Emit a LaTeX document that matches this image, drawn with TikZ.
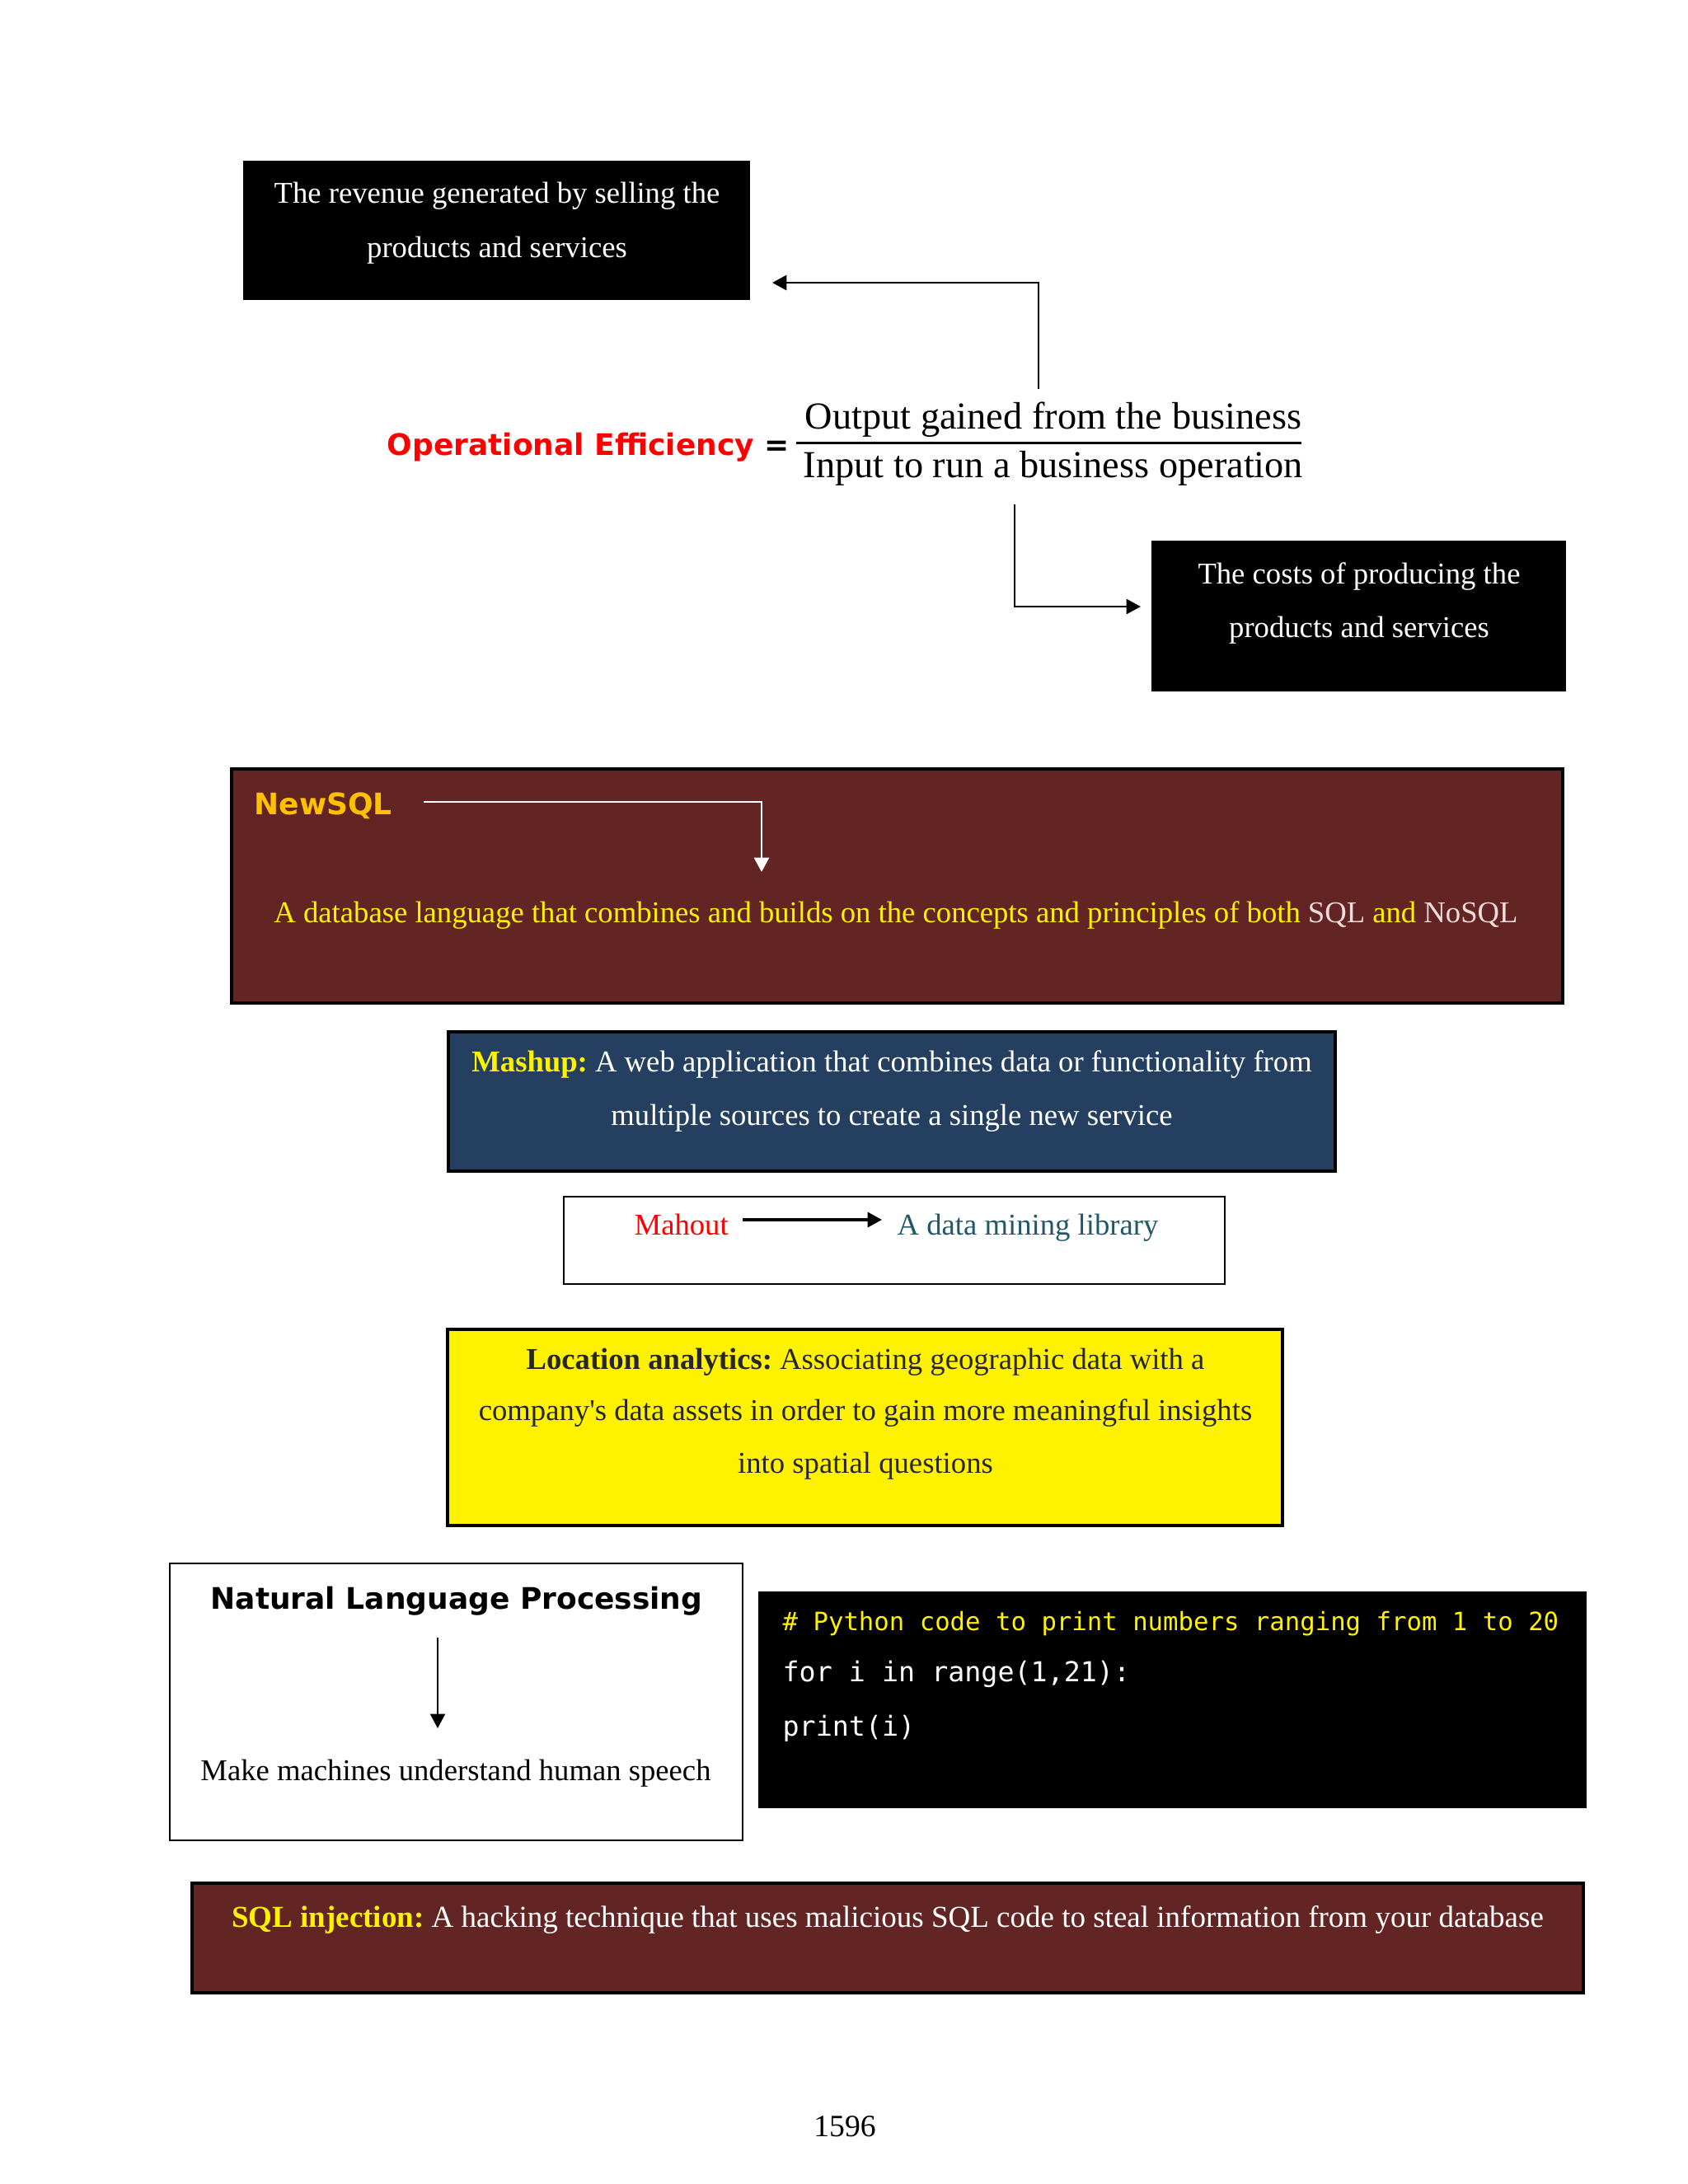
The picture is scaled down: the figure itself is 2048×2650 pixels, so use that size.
\documentclass[tikz,border=0pt]{standalone}
\usepackage{fontspec}
\setmainfont{Liberation Serif}
\newfontfamily\hsans{DejaVu Sans}
\newfontfamily\hmono{DejaVu Sans Mono}
\usetikzlibrary{arrows.meta,fit}
\definecolor{darkred}{HTML}{632523}
\definecolor{navy}{HTML}{243F60}
\definecolor{gold}{HTML}{FFC000}
\definecolor{tealtxt}{HTML}{215868}
\definecolor{pinkw}{HTML}{F2DCDB}
\definecolor{ink}{HTML}{262626}
\definecolor{oered}{HTML}{FF0000}
\newcommand{\straightquote}{\XeTeXglyph\XeTeXcharglyph"27\relax}
\frenchspacing
\begin{document}
\begin{tikzpicture}[x=0.3pt,y=-0.3pt,
  box/.style={draw=black,line width=1pt,inner sep=0pt,outer sep=0pt},
  txt/.style={font=\fontsize{11}{13}\selectfont,inner sep=0pt,anchor=base},
  hd/.style={font=\hsans\bfseries\fontsize{10.8}{13}\selectfont,inner sep=0pt,anchor=base},
  fracfont/.style={font=\fontsize{13.9}{16}\selectfont,inner sep=0pt,anchor=base},
  codeline/.style={font=\hmono\fontsize{10}{12}\selectfont,inner sep=0pt,anchor=base west},
  arr/.style={line width=0.8pt,-{Triangle[length=5.2pt,width=5.4pt]}},
]
\useasboundingbox (0,0) rectangle (2048,2650);
\fill[white] (0,0) rectangle (2048,2650);

% ---------- boxes ----------
\node[box,fill=black,fit={(297,197) (908,362)}] (rev) {};
\node[box,fill=black,fit={(1399,658) (1898,837)}] (cost) {};
\node[box,fill=darkred,fit={(281,933) (1896,1217)}] (newsql) {};
\node[box,fill=navy,fit={(544,1252) (1620,1421)}] (mash) {};
\node[box,fill=white,line width=0.7pt,fit={(684,1452) (1486,1558)}] (mahbox) {};
\node[box,fill=yellow,fit={(543,1613) (1556,1851)}] (loc) {};
\node[box,fill=white,line width=0.7pt,fit={(206,1897) (901,2233)}] (nlp) {};
\node[box,fill=black,fit={(922,1933) (1923,2192)}] (code) {};
\node[box,fill=darkred,fit={(233,2285) (1921,2418)}] (sqli) {};

% ---------- operational efficiency ----------
\node[txt,text=white] (rev1) at (603,246) {The revenue generated by selling the};
\node[txt,text=white] (rev2) at (603,312) {products and services};
\node[txt,text=white] (cost1) at (1649,708) {The costs of producing the};
\node[txt,text=white] (cost2) at (1649,773) {products and services};

\node[hd,anchor=base west] (oe) at (469,552)
  {\textcolor{oered}{Operational Efficiency} =};
\node[fracfont] (num) at (1278,520) {Output gained from the business};
\node[fracfont] (den) at (1278,579) {Input to run a business operation};
\draw[line width=1pt] (966,537.5) -- (1579,537.5);

\coordinate (revA) at (1260,472);
\coordinate (revB) at (937,343);
\draw[arr] (revA) |- (revB);
\coordinate (costA) at (1231,612);
\coordinate (costB) at (1384,736);
\draw[arr] (costA) |- (costB);

% ---------- NewSQL ----------
\node[hd,anchor=base west,text=gold] (nslab) at (308,988) {NewSQL};
\node[txt] (nsdesc) at (1087,1119)
  {\textcolor{yellow}{A database language that combines and builds on the concepts and principles of both} \textcolor{pinkw}{SQL} \textcolor{yellow}{and} \textcolor{pinkw}{NoSQL}};
\coordinate (nsA) at (514,973);
\coordinate (nsB) at (924,1058);
\draw[arr,white,line width=0.7pt] (nsA) -| (nsB);

% ---------- Mashup ----------
\node[txt,text=white] (mash1) at (1082,1300)
  {\textcolor{yellow}{\bfseries Mashup:} A web application that combines data or functionality from};
\node[txt,text=white] (mash2) at (1082,1365) {multiple sources to create a single new service};

% ---------- Mahout ----------
\node[txt,anchor=base west,text=oered] (mah) at (769,1498) {Mahout};
\node[txt,anchor=base west,text=tealtxt] (lib) at (1088,1498) {A data mining library};
\coordinate (mahA) at (901,1480);
\coordinate (mahB) at (1070,1480);
\draw[arr,line width=1pt] (mahA) -- (mahB);

% ---------- Location analytics ----------
\node[txt,text=ink] (loc1) at (1050,1661) {\textbf{Location analytics:} Associating geographic data with a};
\node[txt,text=ink] (loc2) at (1050,1723) {company\straightquote s data assets in order to gain more meaningful insights};
\node[txt,text=ink] (loc3) at (1050,1787) {into spatial questions};

% ---------- NLP ----------
\node[hd] (nlpt) at (554,1952) {Natural Language Processing};
\node[txt] (nlpb) at (553,2160) {Make machines understand human speech};
\coordinate (nlpA) at (531,1987);
\coordinate (nlpB) at (531,2097);
\draw[arr,line width=0.6pt] (nlpA) -- (nlpB);

% ---------- code ----------
\node[codeline,text=yellow,font=\hmono\fontsize{9.2}{11}\selectfont] (c1) at (949,1978) {\# Python code to print numbers ranging from 1 to 20};
\node[codeline,text=white] (c2) at (949,2040) {for i in range(1,21):};
\node[codeline,text=white] (c3) at (949,2106) {print(i)};

% ---------- SQL injection ----------
\node[txt,text=white,font=\fontsize{11.1}{13}\selectfont] (sq) at (1077,2338)
  {\textcolor{yellow}{\bfseries SQL injection:} A hacking technique that uses malicious SQL code to steal information from your database};

% ---------- page number ----------
\node[txt,font=\fontsize{11.3}{13}\selectfont] (pg) at (1025,2592) {1596};
\end{tikzpicture}
\end{document}
